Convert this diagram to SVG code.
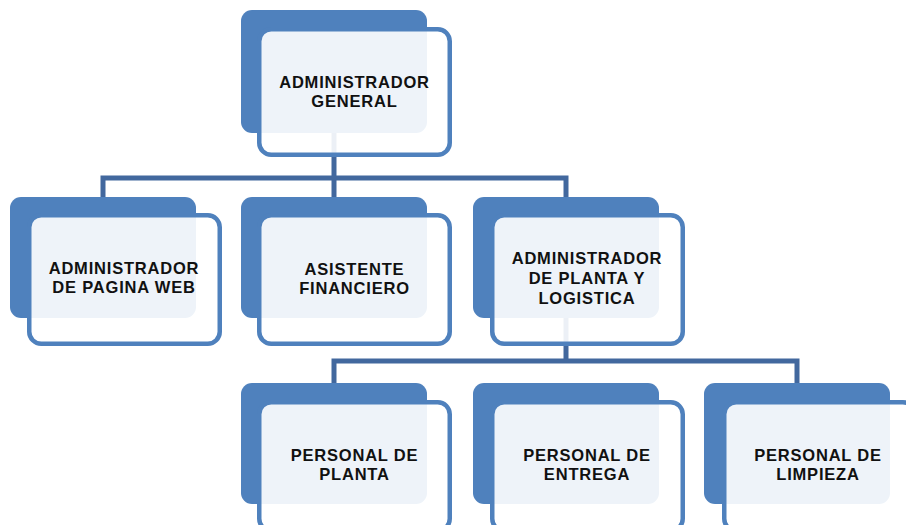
<svg xmlns="http://www.w3.org/2000/svg" width="906" height="525" viewBox="0 0 906 525">
<style>
.back{fill:#4F81BD}
.front{fill:#FFFFFF;fill-opacity:0.9;stroke:#4F81BD;stroke-width:4.5}
.conn{fill:none;stroke:#42689E;stroke-width:5}
text{font-family:"Liberation Sans",Arial,sans-serif;font-weight:bold;font-size:16.5px;letter-spacing:0.8px;fill:#111;text-anchor:middle}
</style>
<rect width="906" height="525" fill="#FFFFFF"/>
<g id="connectors">
<path class="conn" d="M334 133V178M103 197V178H566V197M334 178V197"/>
<path class="conn" d="M566 318V361M334 383V361H797V383"/>
</g>
<g id="n-general">
<rect class="back" x="241" y="10" width="186" height="123" rx="11"/>
<rect class="front" x="259.25" y="29.25" width="190.5" height="125.5" rx="12"/>
<text x="354.5" y="88">ADMINISTRADOR</text>
<text x="354.5" y="107">GENERAL</text>
</g>
<g id="n-web">
<rect class="back" x="10" y="197" width="186" height="121" rx="11"/>
<rect class="front" x="29.25" y="215.25" width="190.5" height="128.5" rx="12"/>
<text x="124" y="274">ADMINISTRADOR</text>
<text x="124" y="293">DE PAGINA WEB</text>
</g>
<g id="n-financiero">
<rect class="back" x="241" y="197" width="186" height="121" rx="11"/>
<rect class="front" x="259.25" y="215.25" width="190.5" height="128.5" rx="12"/>
<text x="354.5" y="275">ASISTENTE</text>
<text x="354.5" y="294">FINANCIERO</text>
</g>
<g id="n-planta-logistica">
<rect class="back" x="473" y="197" width="186" height="121" rx="11"/>
<rect class="front" x="492.25" y="215.25" width="190.5" height="128.5" rx="12"/>
<text x="587" y="264">ADMINISTRADOR</text>
<text x="587" y="284">DE PLANTA Y</text>
<text x="587" y="304">LOGISTICA</text>
</g>
<g id="n-planta">
<rect class="back" x="241" y="383" width="186" height="121" rx="11"/>
<rect class="front" x="259.25" y="402.25" width="190.5" height="128.5" rx="12"/>
<text x="354.5" y="461">PERSONAL DE</text>
<text x="354.5" y="480">PLANTA</text>
</g>
<g id="n-entrega">
<rect class="back" x="473" y="383" width="186" height="121" rx="11"/>
<rect class="front" x="492.25" y="402.25" width="190.5" height="128.5" rx="12"/>
<text x="587" y="461">PERSONAL DE</text>
<text x="587" y="480">ENTREGA</text>
</g>
<g id="n-limpieza">
<rect class="back" x="704" y="383" width="186" height="121" rx="11"/>
<rect class="front" x="724.25" y="402.25" width="190.5" height="128.5" rx="12"/>
<text x="818" y="461">PERSONAL DE</text>
<text x="818" y="480">LIMPIEZA</text>
</g>
</svg>
